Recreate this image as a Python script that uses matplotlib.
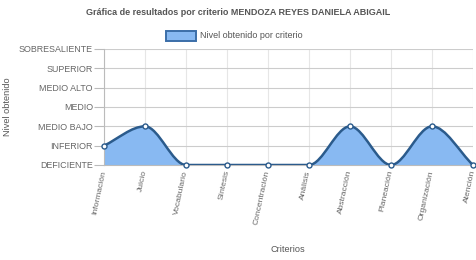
import numpy as np
import matplotlib
matplotlib.use("Agg")
import matplotlib.pyplot as plt
from matplotlib.path import Path
from matplotlib.patches import PathPatch, Rectangle

plt.rcParams['font.family'] = ['Liberation Sans', 'DejaVu Sans']

criterios = ["Información", "Juicio", "Vocabulario", "Síntesis", "Concentración",
             "Análisis", "Abstracción", "Planeación", "Organización", "Atención"]
niveles = [1, 2, 0, 0, 0, 0, 2, 0, 2, 0]
etiquetas_y = ["DEFICIENTE", "INFERIOR", "MEDIO BAJO", "MEDIO", "MEDIO ALTO",
               "SUPERIOR", "SOBRESALIENTE"]

LINE = "#2b5b8c"
FILL = "#88b9f2"

def monotone_tangents(x, y):
    n = len(x)
    d = [(y[i+1]-y[i])/(x[i+1]-x[i]) for i in range(n-1)]
    m = [0.0]*n
    m[0] = d[0]
    m[-1] = d[-1]
    for i in range(1, n-1):
        if d[i-1] == 0 or d[i] == 0 or (d[i-1] > 0) != (d[i] > 0):
            m[i] = 0.0
        else:
            m[i] = (d[i-1]+d[i])/2
    for i in range(n-1):
        if d[i] == 0:
            m[i] = 0.0
            m[i+1] = 0.0
            continue
        a = m[i]/d[i]
        b = m[i+1]/d[i]
        s = a*a + b*b
        if s > 9:
            t = 3/np.sqrt(s)
            m[i] = t*a*d[i]
            m[i+1] = t*b*d[i]
    return m

x = list(range(len(criterios)))
y = niveles
m = monotone_tangents(x, y)
verts = [(x[0], y[0])]
codes = [Path.MOVETO]
for i in range(len(x)-1):
    dx = (x[i+1]-x[i])/3
    verts += [(x[i]+dx, y[i]+m[i]*dx), (x[i+1]-dx, y[i+1]-m[i+1]*dx), (x[i+1], y[i+1])]
    codes += [Path.CURVE4]*3
line_path = Path(verts, codes)
fill_verts = verts + [(x[-1], 0), (x[0], 0), (x[0], y[0])]
fill_codes = codes + [Path.LINETO, Path.LINETO, Path.CLOSEPOLY]
fill_path = Path(fill_verts, fill_codes)

fig = plt.figure(figsize=(4.76, 2.6), dpi=100)
ax = fig.add_axes([104/476, 95/260, 369/476, 116/260])
ax.set_xlim(0, len(criterios)-1)
ax.set_ylim(0, len(etiquetas_y)-1)

ax.add_patch(PathPatch(fill_path, facecolor=FILL, edgecolor='none', zorder=2))
ax.add_patch(PathPatch(line_path, facecolor='none', edgecolor=LINE, lw=1.8, zorder=3))
ax.plot(x, y, 'o', ms=3.6, mfc='white', mec=LINE, mew=1.0, zorder=4, clip_on=False)

ax.set_yticks(range(len(etiquetas_y)))
ax.set_yticklabels(etiquetas_y, fontsize=6.4, color='#666666')
ax.set_xticks(x)
ax.set_xticklabels(criterios, fontsize=6.1, color='#666666', rotation=78,
                   ha='right', va='center', rotation_mode='anchor')
ax.tick_params(axis='y', length=7, color='#bbbbbb', width=0.8, pad=1)
ax.tick_params(axis='x', length=0, pad=4)
ax.grid(True, axis='y', color='#cccccc', lw=0.8, zorder=0)
ax.grid(True, axis='x', color='#e6e6e6', lw=0.8, zorder=0)
for s in ['top', 'right']:
    ax.spines[s].set_visible(False)
ax.spines['left'].set_color('#bbbbbb')
ax.spines['bottom'].set_color('#bbbbbb')
ax.spines['left'].set_linewidth(0.8)
ax.spines['bottom'].set_linewidth(0.8)
ax.set_axisbelow(True)

fig.text(238/476, 1-12/260, "Gráfica de resultados por criterio MENDOZA REYES DANIELA ABIGAIL",
         ha='center', va='center', fontsize=6.5, fontweight='bold', color='#555555')
fig.patches.append(Rectangle((166/476, 1-41/260), 30/476, 10/260, transform=fig.transFigure,
                             facecolor=FILL, edgecolor='#3b6ea8', lw=1.4))
fig.text(200/476, 1-36/260, "Nivel obtenido por criterio", ha='left', va='center',
         fontsize=6.5, color='#555555')
fig.text(288/476, 1-250/260, "Criterios", ha='center', va='center', fontsize=6.6, color='#555555')
fig.text(8/476, 1-107/260, "Nivel obtenido", ha='center', va='center', rotation=90,
         fontsize=6.6, color='#555555')

fig.savefig("out.png", dpi=100)
